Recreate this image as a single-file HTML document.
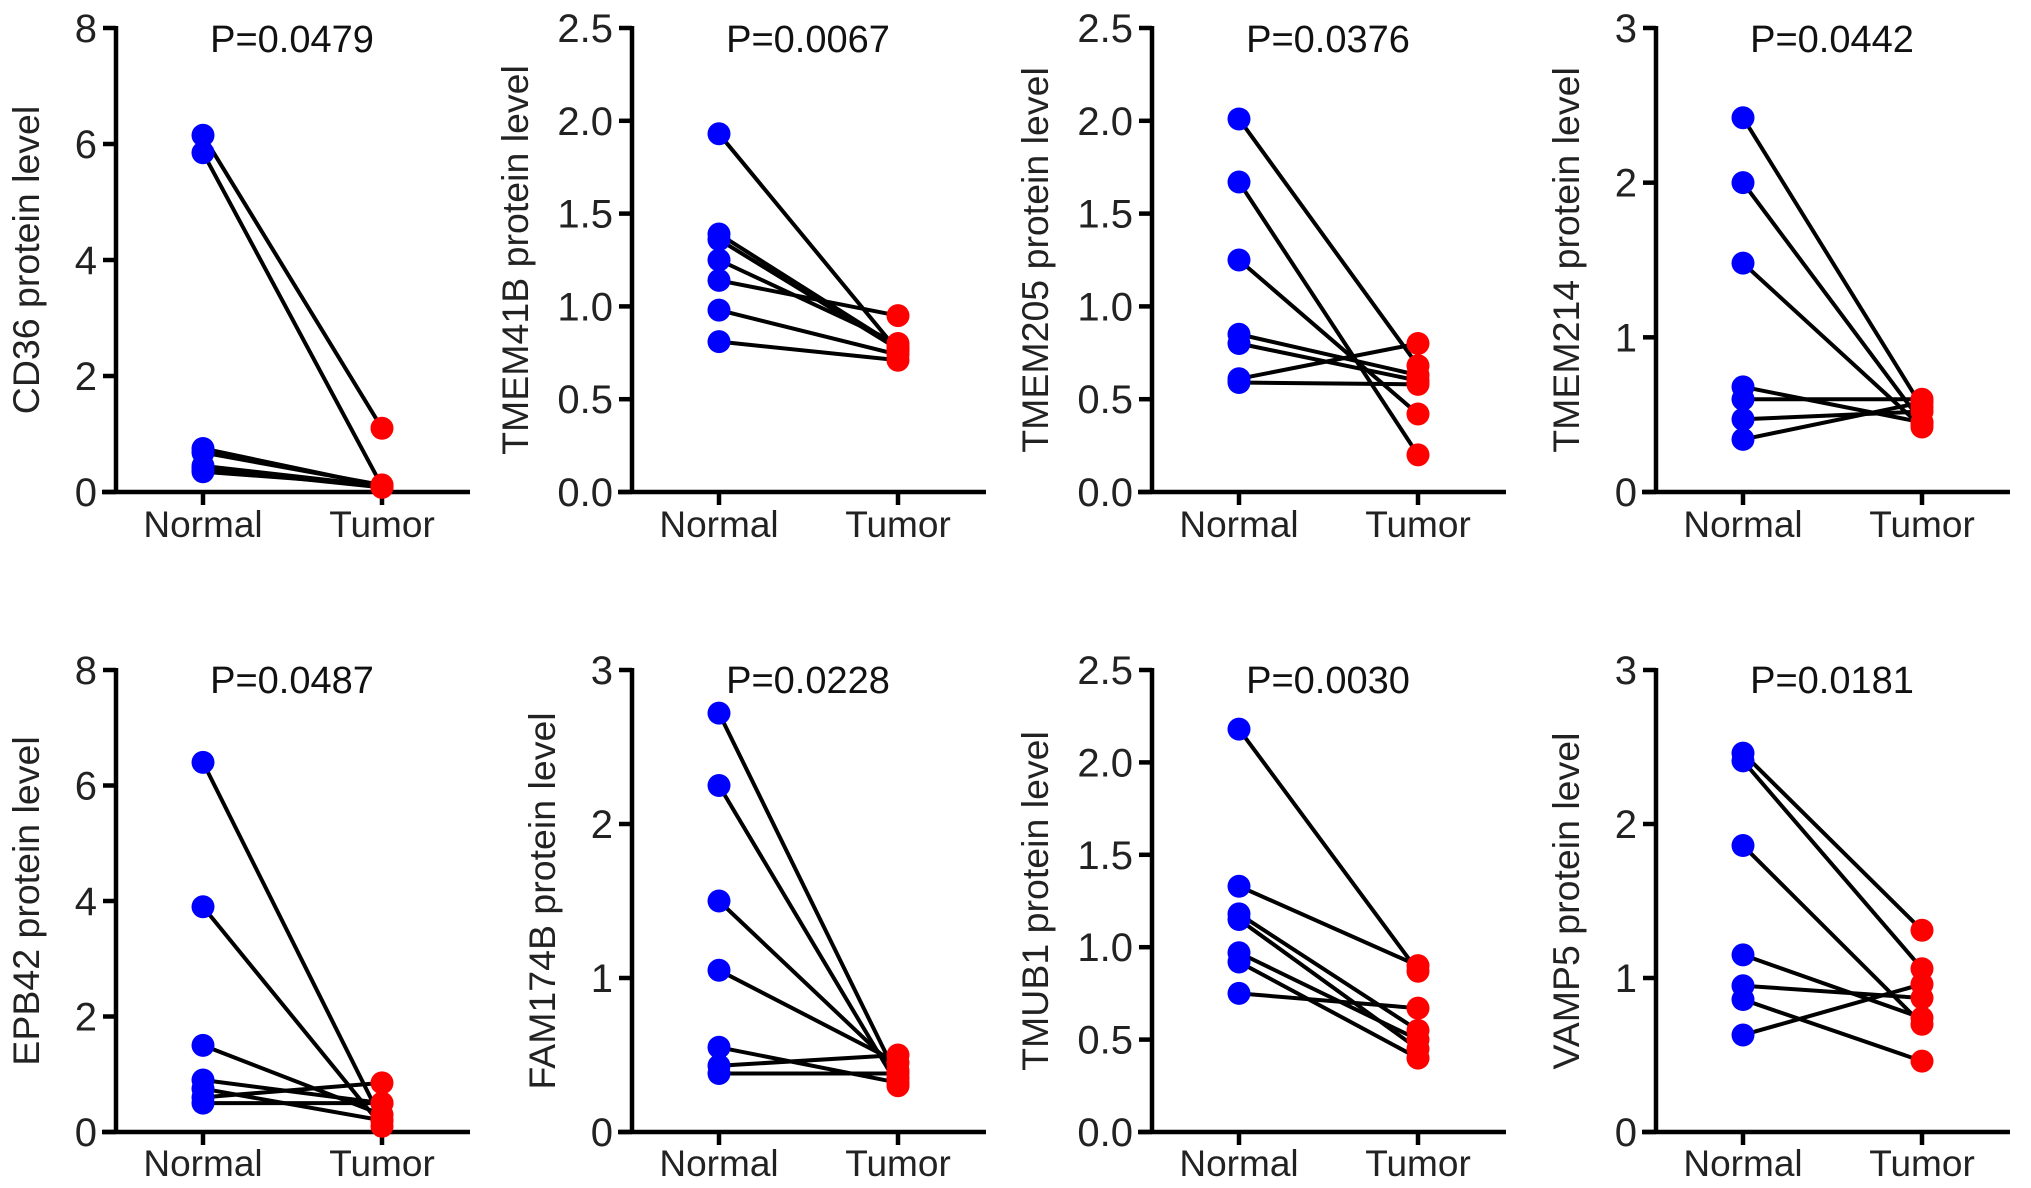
<!DOCTYPE html>
<html><head><meta charset="utf-8"><style>
html,body{margin:0;padding:0;background:#fff;}
svg{display:block;font-family:"Liberation Sans",Arial,sans-serif;}
</style></head><body>
<svg id="fig" width="2031" height="1188" viewBox="0 0 2031 1188" xmlns="http://www.w3.org/2000/svg"></svg>
<script>
const panelNames = ["CD36","TMEM41B","TMEM205","TMEM214","EPB42","FAM174B","TMUB1","VAMP5"];
const pValues = ["P=0.0479","P=0.0067","P=0.0376","P=0.0442","P=0.0487","P=0.0228","P=0.0030","P=0.0181"];
const categories = ["Normal","Tumor"];
const yMaxes = [8,2.5,2.5,3,8,3,2.5,3];
const tickSets = [[0,2,4,6,8],[0,0.5,1,1.5,2,2.5],[0,0.5,1,1.5,2,2.5],[0,1,2,3],[0,2,4,6,8],[0,1,2,3],[0,0.5,1,1.5,2,2.5],[0,1,2,3]];
const tickDecimals = [0,1,1,0,0,0,1,0];
const normalCD36 = [6.15,5.85,0.75,0.68,0.45,0.40,0.35];
const tumorCD36 = [1.10,0.10,0.10,0.12,0.10,0.08,0.12];
const normalTMEM41B = [1.93,1.39,1.36,1.25,1.14,0.98,0.81];
const tumorTMEM41B = [0.76,0.78,0.77,0.80,0.95,0.74,0.71];
const normalTMEM205 = [2.01,1.67,1.25,0.85,0.80,0.61,0.59];
const tumorTMEM205 = [0.68,0.20,0.42,0.63,0.60,0.80,0.58];
const normalTMEM214 = [2.42,2.00,1.48,0.68,0.60,0.47,0.34];
const tumorTMEM214 = [0.55,0.45,0.42,0.45,0.60,0.52,0.58];
const normalEPB42 = [6.40,3.90,1.50,0.90,0.75,0.60,0.50];
const tumorEPB42 = [0.20,0.10,0.30,0.50,0.20,0.85,0.50];
const normalFAM174B = [2.72,2.25,1.50,1.05,0.55,0.43,0.38];
const tumorFAM174B = [0.35,0.30,0.40,0.45,0.32,0.50,0.38];
const normalTMUB1 = [2.18,1.33,1.18,1.15,0.97,0.92,0.75];
const tumorTMUB1 = [0.87,0.90,0.55,0.45,0.50,0.40,0.67];
const normalVAMP5 = [2.46,2.41,1.86,1.15,0.95,0.86,0.63];
const tumorVAMP5 = [1.31,1.06,0.70,0.74,0.87,0.46,0.96];
const normals = [normalCD36,normalTMEM41B,normalTMEM205,normalTMEM214,normalEPB42,normalFAM174B,normalTMUB1,normalVAMP5];
const tumors = [tumorCD36,tumorTMEM41B,tumorTMEM205,tumorTMEM214,tumorEPB42,tumorFAM174B,tumorTMUB1,tumorVAMP5];

const NS="http://www.w3.org/2000/svg";
const svg=document.getElementById('fig');
const axisXs=[116,632,1152,1656];
const rows=[{top:28,bot:492,title:52,xl:537},{top:670,bot:1132,title:693,xl:1176}];
function mk(tag,attrs,parent){const e=document.createElementNS(NS,tag);for(const k in attrs)e.setAttribute(k,attrs[k]);parent.appendChild(e);return e;}

for(let p=0;p<8;p++){
  const r=rows[Math.floor(p/4)], ax=axisXs[p%4];
  const g=mk('g',{},svg);
  
  
  const yS=v=>r.bot-(v/yMaxes[p])*(r.bot-r.top);
  const xS=i=>ax+87+i*179;
  const ya=mk('line',{x1:ax,y1:r.top-2,x2:ax,y2:r.bot+2,stroke:'#000','stroke-width':4.5},g);
  
  
  const xa=mk('line',{x1:ax-14,y1:r.bot,x2:ax+354,y2:r.bot,stroke:'#000','stroke-width':4.5},g);
  
  
  tickSets[p].forEach(t=>{
    const y=yS(t);
    mk('line',{x1:ax-13,y1:y,x2:ax,y2:y,stroke:'#000','stroke-width':4.5},g);
    const tl=mk('text',{x:ax-19,y:y+14,'text-anchor':'end','font-size':40,fill:'#222'},g);
    tl.textContent=t.toFixed(tickDecimals[p]);
    
    
  });
  categories.forEach((c,i)=>{
    const x=xS(i);
    mk('line',{x1:x,y1:r.bot,x2:x,y2:r.bot+13,stroke:'#000','stroke-width':4.5},g);
    const cl=mk('text',{x:x,y:r.xl,'text-anchor':'middle','font-size':37,fill:'#222'},g);
    cl.textContent=c;
    
    
  });
  const title=mk('text',{x:ax+176,y:r.title,'text-anchor':'middle','font-size':38,fill:'#111'},g);
  title.textContent=pValues[p];
  
  
  const off=(tickDecimals[p]?-117:-90);
  const cy=(r.top+r.bot)/2, cx=ax+off;
  const yt=mk('text',{x:cx,y:cy,'text-anchor':'middle','font-size':37.5,fill:'#222',transform:`rotate(-90 ${cx} ${cy})`,dy:13},g);
  yt.textContent=panelNames[p]+' protein level';
  
  
  const nv=normals[p], tv=tumors[p];
  for(let k=0;k<nv.length;k++){
    const ln=mk('line',{x1:xS(0),y1:yS(nv[k]),x2:xS(1),y2:yS(tv[k]),stroke:'#000','stroke-width':4},g);
    
    
  }
  for(let k=0;k<nv.length;k++){
    const c1=mk('circle',{cx:xS(0),cy:yS(nv[k]),r:11.5,fill:'#0000ff'},g);
    
    
    const c2=mk('circle',{cx:xS(1),cy:yS(tv[k]),r:11.5,fill:'#ff0000'},g);
    
    
  }
}
</script>
</body></html>
